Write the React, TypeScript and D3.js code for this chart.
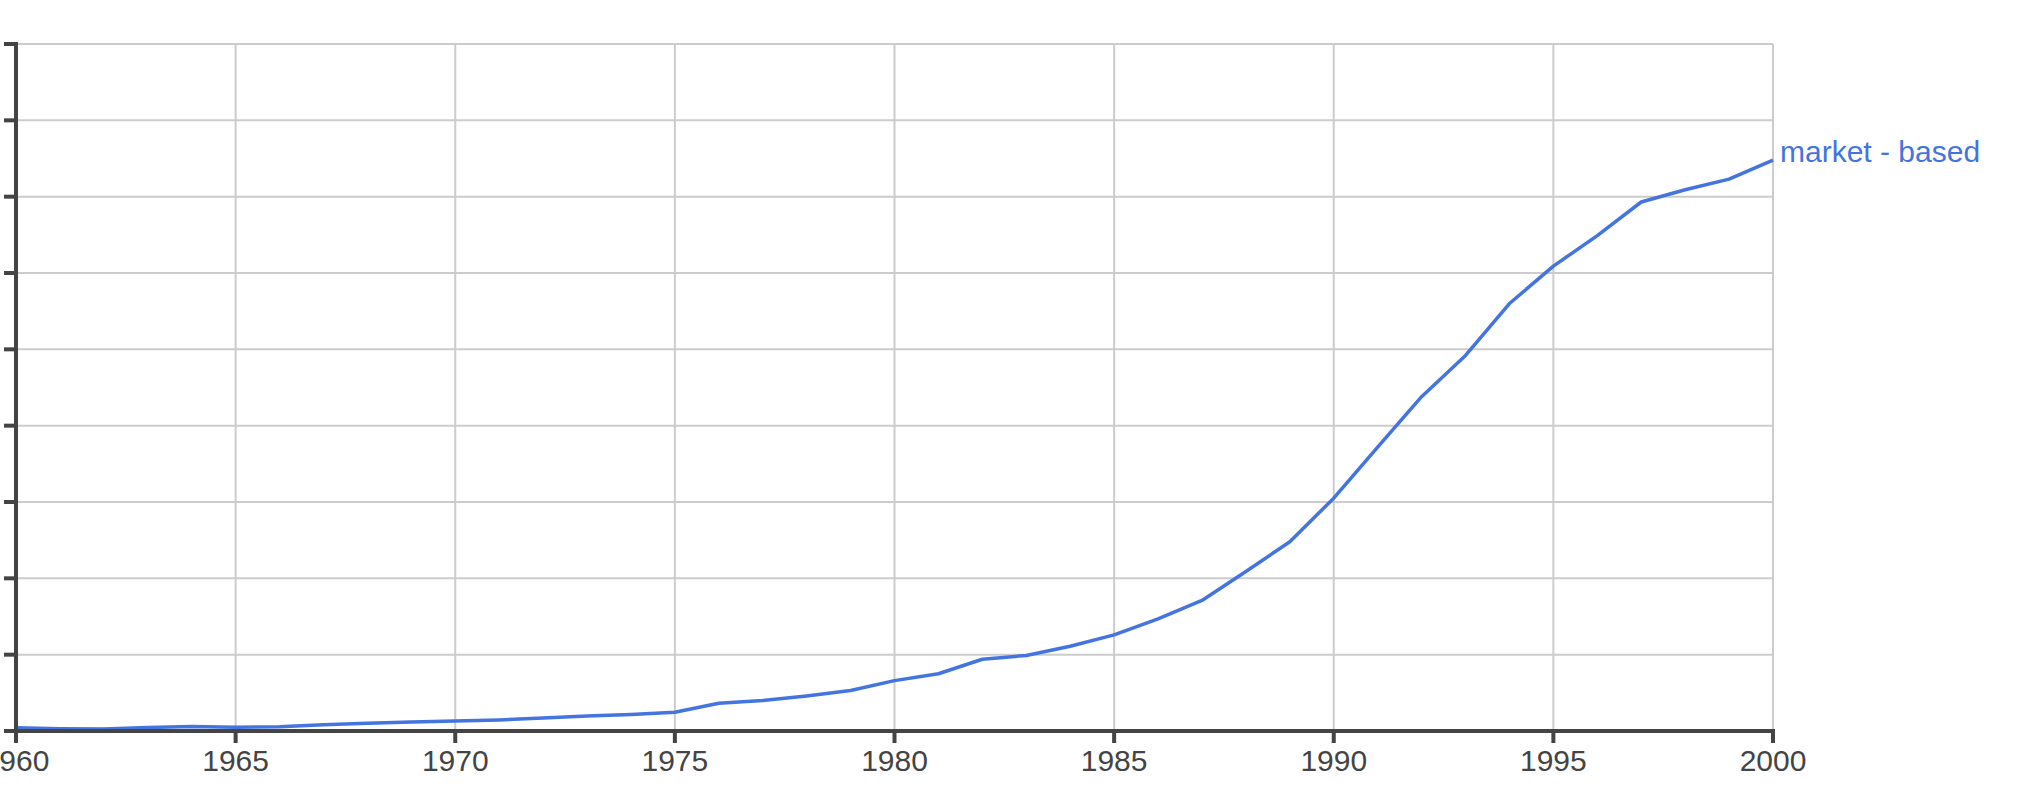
import React from "react";
import * as d3 from "d3";

const years: number[] = [
  1960, 1961, 1962, 1963, 1964, 1965, 1966, 1967, 1968, 1969,
  1970, 1971, 1972, 1973, 1974, 1975, 1976, 1977, 1978, 1979,
  1980, 1981, 1982, 1983, 1984, 1985, 1986, 1987, 1988, 1989,
  1990, 1991, 1992, 1993, 1994, 1995, 1996, 1997, 1998, 1999, 2000,
];

const marketBased: number[] = [
  0.043, 0.03, 0.026, 0.046, 0.06, 0.048, 0.057, 0.083, 0.1, 0.118,
  0.13, 0.144, 0.17, 0.195, 0.215, 0.245, 0.363, 0.4, 0.46, 0.53,
  0.66, 0.75, 0.94, 0.99, 1.11, 1.26, 1.47, 1.71, 2.09, 2.48,
  3.05, 3.72, 4.38, 4.92, 5.6, 6.09, 6.49, 6.93, 7.09, 7.23, 7.48,
];

const seriesName = "market - based";
const xTicks: number[] = [1960, 1965, 1970, 1975, 1980, 1985, 1990, 1995, 2000];
const yTicks: number[] = [0, 1, 2, 3, 4, 5, 6, 7, 8, 9];

const W = 2024;
const H = 790;
const LEFT = 16;
const RIGHT = 1773;
const TOP = 44;
const BOTTOM = 731;

const AXIS = "#444444";
const GRID = "#cccccc";
const BLUE = "#4374e0";
const FONT = "Arial, 'Liberation Sans', Helvetica, sans-serif";

export default function App() {
  const x = d3.scaleLinear().domain([1960, 2000]).range([LEFT, RIGHT]);
  const y = d3.scaleLinear().domain([0, 9]).range([BOTTOM, TOP]);
  const pts: [number, number][] = years.map((yr, i) => [yr, marketBased[i]]);
  const line = d3
    .line<[number, number]>()
    .x((d) => x(d[0]))
    .y((d) => y(d[1]));
  const last = pts[pts.length - 1];

  return (
    <svg
      width={W}
      height={H}
      style={{ position: "absolute", left: 0, top: 0, background: "#fff" }}
    >
      {yTicks.map((t) => (
        <line
          key={"hg" + t}
          x1={LEFT}
          x2={RIGHT}
          y1={y(t)}
          y2={y(t)}
          stroke={GRID}
          strokeWidth={2}
        />
      ))}
      {xTicks.slice(1).map((t) => (
        <line
          key={"vg" + t}
          x1={x(t)}
          x2={x(t)}
          y1={TOP}
          y2={BOTTOM}
          stroke={GRID}
          strokeWidth={2}
        />
      ))}
      <path
        d={line(pts) || ""}
        fill="none"
        stroke={BLUE}
        strokeWidth={3.5}
        strokeLinejoin="round"
      />
      <text
        x={x(last[0]) + 7}
        y={y(last[1]) + 2}
        fill={BLUE}
        fontFamily={FONT}
        fontSize={30}
      >
        {seriesName}
      </text>
      <line x1={LEFT} x2={LEFT} y1={TOP - 2} y2={BOTTOM} stroke={AXIS} strokeWidth={4} />
      {yTicks.map((t) => (
        <line
          key={"yt" + t}
          x1={4}
          x2={LEFT}
          y1={y(t)}
          y2={y(t)}
          stroke={AXIS}
          strokeWidth={4}
        />
      ))}
      <line x1={4} x2={RIGHT + 2} y1={BOTTOM} y2={BOTTOM} stroke={AXIS} strokeWidth={4} />
      {xTicks.map((t) => (
        <g key={"xt" + t}>
          <line
            x1={x(t)}
            x2={x(t)}
            y1={BOTTOM}
            y2={BOTTOM + 12}
            stroke={AXIS}
            strokeWidth={4}
          />
          <text
            x={x(t)}
            y={BOTTOM + 40}
            textAnchor="middle"
            fill={AXIS}
            fontFamily={FONT}
            fontSize={30}
          >
            {t}
          </text>
        </g>
      ))}
    </svg>
  );
}
